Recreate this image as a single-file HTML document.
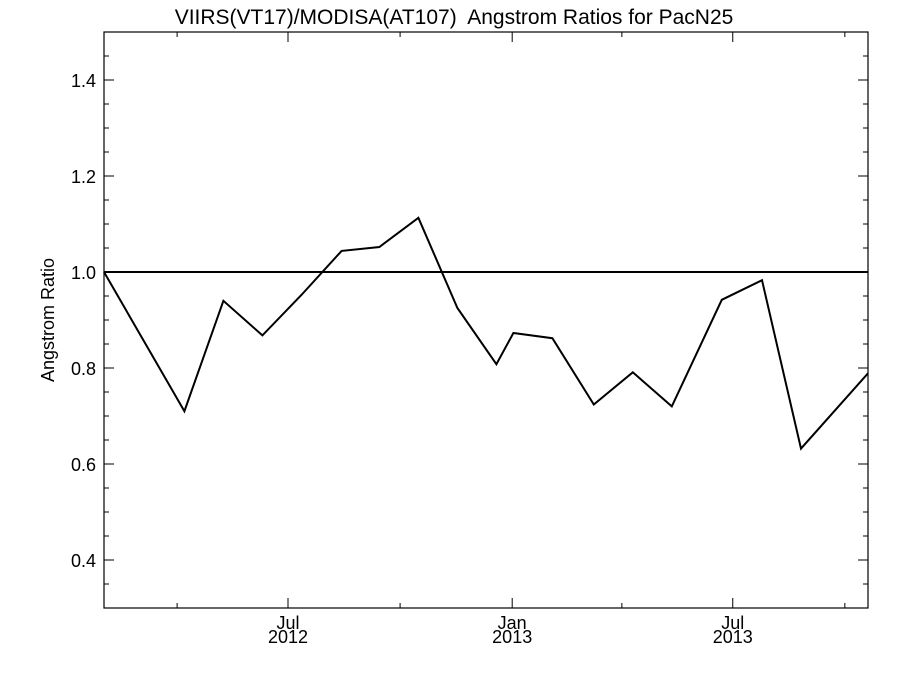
<!DOCTYPE html>
<html><head><meta charset="utf-8"><style>
html,body{margin:0;padding:0;background:#fff;}
svg text{font-family:"Liberation Sans",Helvetica,sans-serif;fill:#000;}
</style></head><body>
<svg id="chart" width="900" height="675" xmlns="http://www.w3.org/2000/svg">
<text x="454" y="24" font-size="21" text-anchor="middle" style="white-space:pre">VIIRS(VT17)/MODISA(AT107)  Angstrom Ratios for PacN25</text>
<text transform="translate(54,320) rotate(-90)" font-size="18" text-anchor="middle">Angstrom Ratio</text>
<g id="ticks"></g>
<g id="series"></g>
<rect x="104" y="32" width="764" height="576" fill="none" stroke="#000" stroke-width="1.2"/>
</svg>
<script>
const dates = ["2012-02-01","2012-04-07","2012-05-09","2012-06-10","2012-07-12","2012-08-14","2012-09-14","2012-10-16","2012-11-17","2012-12-19","2013-01-02","2013-02-03","2013-03-09","2013-04-10","2013-05-12","2013-06-22","2013-07-25","2013-08-26","2013-10-20"];
const ratios = [1.0,0.71,0.94,0.868,0.952,1.044,1.052,1.113,0.925,0.808,0.873,0.862,0.724,0.791,0.72,0.942,0.983,0.632,0.789];
const yTicks = [0.4,0.6,0.8,1.0,1.2,1.4];
const yTickLabels = ["0.4","0.6","0.8","1.0","1.2","1.4"];
const xMajor = ["2012-07-01","2013-01-01","2013-07-01"];
const xMajorLabels = [["Jul","2012"],["Jan","2013"],["Jul","2013"]];
const xMinor = ["2012-04-01","2012-10-01","2013-04-01","2013-10-01"];
const refValue = 1.0;

const NS="http://www.w3.org/2000/svg";
const L=104,R=868,T=32,B=608;
const x0=Date.UTC(2012,1,1), x1=Date.UTC(2013,9,20);
function d(s){const p=s.split("-");return Date.UTC(+p[0],+p[1]-1,+p[2]);}
function X(s){return L+(d(s)-x0)/(x1-x0)*(R-L);}
function Y(v){return B-(v-0.3)/(1.5-0.3)*(B-T);}
function mk(tag,attrs,parent){const e=document.createElementNS(NS,tag);for(const k in attrs)e.setAttribute(k,attrs[k]);parent.appendChild(e);return e;}
const tg=document.getElementById("ticks"), sg=document.getElementById("series");
for(let v=0.3;v<=1.5001;v+=0.05){
  const y=Y(v);const major=yTicks.some(t=>Math.abs(t-v)<1e-6);const len=major?10:5;
  const a=mk("line",{x1:L,x2:L+len,y1:y,y2:y,stroke:"#000"},tg);
  
  
  const b=mk("line",{x1:R-len,x2:R,y1:y,y2:y,stroke:"#000"},tg);
  
  
}
yTicks.forEach((v,i)=>{
  const t=mk("text",{x:L-8,y:Y(v)+7,"font-size":"18","text-anchor":"end"},tg);
  t.textContent=yTickLabels[i];
  
  
});
xMajor.forEach((s,i)=>{
  const x=X(s);
  const a=mk("line",{x1:x,x2:x,y1:B,y2:B-10,stroke:"#000"},tg);
  
  
  const b=mk("line",{x1:x,x2:x,y1:T,y2:T+10,stroke:"#000"},tg);
  
  
  const t1=mk("text",{x:x,y:629,"font-size":"18","text-anchor":"middle"},tg);
  t1.textContent=xMajorLabels[i][0];
  
  
  const t2=mk("text",{x:x,y:643,"font-size":"18","text-anchor":"middle"},tg);
  t2.textContent=xMajorLabels[i][1];
  
  
});
xMinor.forEach(s=>{
  const x=X(s);
  const a=mk("line",{x1:x,x2:x,y1:B,y2:B-5,stroke:"#000"},tg);
  
  
  const b=mk("line",{x1:x,x2:x,y1:T,y2:T+5,stroke:"#000"},tg);
  
  
});
const ref=mk("line",{x1:L,x2:R,y1:Y(refValue),y2:Y(refValue),stroke:"#000","stroke-width":"2"},sg);


const pts=dates.map((s,i)=>X(s).toFixed(1)+","+Y(ratios[i]).toFixed(1)).join(" ");
const pl=mk("polyline",{points:pts,fill:"none",stroke:"#000","stroke-width":"2","stroke-linejoin":"miter"},sg);


</script>
</body></html>
